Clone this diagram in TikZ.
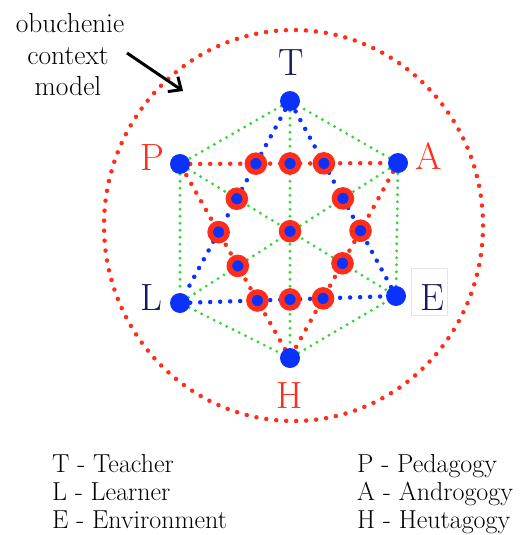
\documentclass[tikz,border=0pt]{standalone}
\usepackage{fontspec}
\usetikzlibrary{arrows.meta,backgrounds}
\definecolor{vblue}{RGB}{10,50,250}
\definecolor{xred}{RGB}{255,45,25}
\definecolor{dgreen}{RGB}{50,215,50}
\definecolor{navy}{RGB}{25,25,100}
\begin{document}
\begin{tikzpicture}[x=1pt,y=-1pt,
  vtx/.style={circle,fill=vblue,minimum size=20pt,inner sep=0pt},
  xpt/.style={circle,fill=vblue,draw=xred,line width=5.5pt,minimum size=17pt,inner sep=0pt},
  bigdots/.style={line width=4.5pt,line cap=round,dash pattern=on 0pt off 10pt},
  gdots/.style={dgreen,line width=3.2pt,line cap=round,dash pattern=on 0pt off 7pt},
  lab/.style={font=\fontsize{38}{40}\selectfont,inner sep=0pt},
  side/.style={font=\fontsize{27.5}{31}\selectfont,inner sep=0pt,anchor=base},
  legend/.style={font=\fontsize{26}{28}\selectfont,inner sep=0pt,anchor=base west},
]
\useasboundingbox (0,0) rectangle (522,535);

% outer context ellipse
\draw[xred,bigdots] (293.5,225.5) ellipse [x radius=189.5pt, y radius=195.5pt];

% vertices
\node[vtx] (T) at (290,101) {};
\node[vtx] (P) at (180,164) {};
\node[vtx] (A) at (398,163) {};
\node[vtx] (L) at (180,303) {};
\node[vtx] (E) at (396,296) {};
\node[vtx] (H) at (290,358) {};

% intersection points
\coordinate (c1) at (intersection of P--A and T--L);
\coordinate (c2) at (intersection of P--A and T--H);
\coordinate (c3) at (intersection of P--A and T--E);
\coordinate (c4) at (intersection of T--L and P--E);
\coordinate (c5) at (intersection of T--E and L--A);
\coordinate (c6) at (intersection of T--L and P--H);
\coordinate (c7) at (intersection of T--H and P--E);
\coordinate (c8) at (intersection of T--E and A--H);
\coordinate (c9) at (intersection of P--H and L--A);
\coordinate (c10) at (intersection of A--H and P--E);
\coordinate (c11) at (intersection of L--E and P--H);
\coordinate (c12) at (intersection of L--E and T--H);
\coordinate (c13) at (intersection of L--E and A--H);

\begin{scope}[on background layer]
  % green hexagon and diagonals
  \draw[gdots] (T) -- (P);
  \draw[gdots] (P) -- (L);
  \draw[gdots] (L) -- (H);
  \draw[gdots] (H) -- (E);
  \draw[gdots] (E) -- (A);
  \draw[gdots] (A) -- (T);
  \draw[gdots] (T) -- (H);
  \draw[gdots] (P) -- (E);
  \draw[gdots] (L) -- (A);
  % blue triangle
  \draw[vblue,bigdots] (T) -- (L);
  \draw[vblue,bigdots] (L) -- (E);
  \draw[vblue,bigdots] (E) -- (T);
  % red triangle
  \draw[xred,bigdots] (P) -- (A);
  \draw[xred,bigdots] (A) -- (H);
  \draw[xred,bigdots] (H) -- (P);
\end{scope}

\foreach \i in {1,...,13} { \node[xpt] (x\i) at (c\i) {}; }

% vertex labels
\node[lab,navy] (tT) at (291,63) {T};
\node[lab,xred] (tP) at (152,158) {P};
\node[lab,xred] (tA) at (429,156) {A};
\node[lab,navy] (tL) at (151,298) {L};
\node[lab,navy] (tE) at (432,298) {E};
\node[lab,xred] (tH) at (290,396) {H};
\draw[gray!20,line width=0.6pt] (411,268) rectangle (447,315);

% side note and arrow
\node[side] (ob1) at (70,33) {obuchenie};
\node[side] (ob2) at (68,64) {context};
\node[side] (ob3) at (68,95) {model};
\coordinate (as) at (127,53);
\coordinate (ae) at (183,91);
\draw[line width=3pt,-{Straight Barb[length=10pt,width=18pt]}] (as) -- (ae);

% legend
\node[legend] (g1) at (52,472) {T - Teacher};
\node[legend] (g2) at (52,500) {L - Learner};
\node[legend] (g3) at (52,528) {E - Environment};
\node[legend] (g4) at (357,472) {P - Pedagogy};
\node[legend] (g5) at (357,500) {A - Androgogy};
\node[legend] (g6) at (357,528) {H - Heutagogy};
\end{tikzpicture}
\end{document}
